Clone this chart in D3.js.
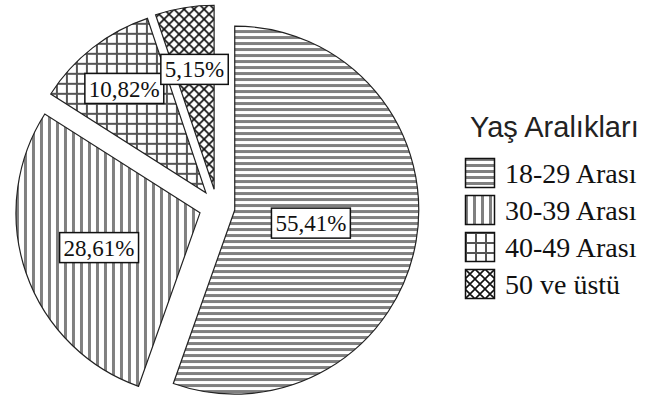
<!DOCTYPE html>
<html>
<head>
<meta charset="utf-8">
<script src="https://cdn.jsdelivr.net/npm/d3@7"></script>
<style>
  html, body { margin: 0; padding: 0; background: #fff; }
  svg { display: block; }
</style>
</head>
<body>
<svg id="chart" width="652" height="400"></svg>
<script>
// Age groups and their shares (%)
const categories = ["18-29 Arası", "30-39 Arası", "40-49 Arası", "50 ve üstü"];
const shares = [55.41, 28.61, 10.82, 5.15];
const valueLabels = ["55,41%", "28,61%", "10,82%", "5,15%"];
const legendTitle = "Yaş Aralıkları";

// Fill pattern per slice
const patternIds = ["hstripe", "vstripe", "grid", "diamond"];
// How far out (fraction of radius) each value label sits
const labelRadius = [0.42, 0.58, 0.72, 0.66];

const svg = d3.select("#chart");
const defs = svg.append("defs");

// Horizontal stripes
const ph = defs.append("pattern").attr("id", "hstripe")
  .attr("patternUnits", "userSpaceOnUse").attr("width", 8).attr("height", 6);
ph.append("rect").attr("width", 8).attr("height", 6).attr("fill", "#fff");
ph.append("rect").attr("y", 0).attr("width", 8).attr("height", 3).attr("fill", "#808080");

// Vertical stripes
const pv = defs.append("pattern").attr("id", "vstripe")
  .attr("patternUnits", "userSpaceOnUse").attr("width", 8).attr("height", 8);
pv.append("rect").attr("width", 8).attr("height", 8).attr("fill", "#fff");
pv.append("rect").attr("x", 0).attr("width", 3).attr("height", 8).attr("fill", "#808080");

// Square grid
const pg = defs.append("pattern").attr("id", "grid")
  .attr("patternUnits", "userSpaceOnUse").attr("width", 10).attr("height", 10);
pg.append("rect").attr("width", 10).attr("height", 10).attr("fill", "#fff");
pg.append("rect").attr("x", 0).attr("width", 2).attr("height", 10).attr("fill", "#555");
pg.append("rect").attr("y", 0).attr("width", 10).attr("height", 2).attr("fill", "#555");

// Diagonal cross-hatch
const pd = defs.append("pattern").attr("id", "diamond")
  .attr("patternUnits", "userSpaceOnUse").attr("width", 10).attr("height", 10);
pd.append("rect").attr("width", 10).attr("height", 10).attr("fill", "#fff");
pd.append("path").attr("d", "M-1,-1L11,11M-1,11L11,-1M-6,4L6,16M4,-6L16,6M4,16L16,4M-6,6L6,-6")
  .attr("stroke", "#111").attr("stroke-width", 1.6);

// Pie geometry
const cx = 217, cy = 207, r = 184, explode = 18;

const pie = d3.pie().sort(null).value(d => d).startAngle(0).endAngle(2 * Math.PI);
const arcs = pie(shares);
const arc = d3.arc().innerRadius(0).outerRadius(r);

const dir = a => [Math.sin(a), -Math.cos(a)];

const g = svg.append("g").attr("transform", `translate(${cx},${cy})`);

const slices = g.selectAll("g.slice").data(arcs).join("g")
  .attr("class", "slice")
  .attr("transform", d => {
    const m = (d.startAngle + d.endAngle) / 2;
    const [ux, uy] = dir(m);
    return `translate(${ux * explode},${uy * explode})`;
  });

slices.append("path")
  .attr("d", arc)
  .attr("fill", (d, i) => `url(#${patternIds[i]})`)
  .attr("stroke", "#222")
  .attr("stroke-width", 1.2);

// Value labels in white boxes
const labels = slices.append("g")
  .attr("transform", (d, i) => {
    const m = (d.startAngle + d.endAngle) / 2;
    const [ux, uy] = dir(m);
    return `translate(${ux * r * labelRadius[i]},${uy * r * labelRadius[i]})`;
  });

labels.append("text")
  .attr("text-anchor", "middle")
  .attr("dy", "0.35em")
  .attr("font-family", "'Liberation Serif', 'Times New Roman', serif")
  .attr("font-size", 23)
  .attr("fill", "#111")
  .text((d, i) => valueLabels[i]);

labels.each(function() {
  const gg = d3.select(this);
  const bb = gg.select("text").node().getBBox();
  gg.insert("rect", "text")
    .attr("x", bb.x - 4).attr("y", -15)
    .attr("width", bb.width + 8).attr("height", 30)
    .attr("fill", "#fff").attr("stroke", "#111").attr("stroke-width", 1.5);
});

// Legend
const legend = svg.append("g").attr("transform", "translate(465,0)");

legend.append("text")
  .attr("x", 5).attr("y", 137)
  .attr("font-family", "'Liberation Sans', Arial, sans-serif")
  .attr("font-size", 29)
  .attr("fill", "#222")
  .text(legendTitle);

const rowY = d3.scaleBand().domain(categories).range([158, 306]).paddingInner(0);

const rows = legend.selectAll("g.row").data(categories).join("g")
  .attr("class", "row")
  .attr("transform", d => `translate(0,${rowY(d)})`);

rows.append("rect")
  .attr("x", 0.5).attr("y", 0.5)
  .attr("width", 29).attr("height", 29)
  .attr("fill", (d, i) => `url(#${patternIds[i]})`)
  .attr("stroke", "#111").attr("stroke-width", 1.5);

rows.append("text")
  .attr("x", 40).attr("y", 25)
  .attr("font-family", "'Liberation Serif', 'Times New Roman', serif")
  .attr("font-size", 28)
  .attr("fill", "#111")
  .text(d => d);
</script>
</body>
</html>
